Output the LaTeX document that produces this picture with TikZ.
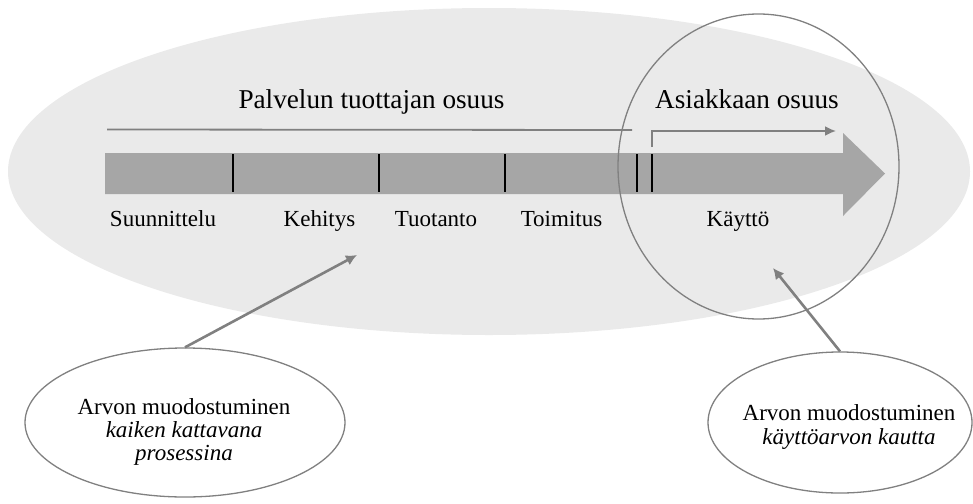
\documentclass[tikz,border=0pt]{standalone}
\usepackage{fontspec}
\setmainfont{Liberation Serif}
\usepackage{tikz}
\usetikzlibrary{arrows.meta,shapes.geometric}
\definecolor{bgfill}{RGB}{234,234,234}
\definecolor{barfill}{RGB}{166,166,166}
\definecolor{edge}{RGB}{128,128,128}

\begin{document}
\begin{tikzpicture}
  [x=0.5pt,y=-0.5pt,
   phase/.style={anchor=base,font=\fontsize{11.5}{13}\selectfont},
   share/.style={anchor=base,font=\fontsize{13.6}{16}\selectfont},
   bubble/.style={ellipse,draw=edge,line width=0.65pt,fill=white,inner sep=0pt},
   bubbletext/.style={align=center,font=\fontsize{11.5}{11.5}\selectfont},
   pointer/.style={draw=edge,line width=1.3pt,-{Latex[length=5.5pt,width=5.5pt]}}]
  \useasboundingbox (0,0) rectangle (973,503);
  \node[ellipse,fill=bgfill,inner sep=0pt,minimum width=481pt,minimum height=163.5pt] (stage) at (489,171.5) {};
  \fill[barfill] (105,153) -- (843,153) -- (843,133) -- (885,173.5) -- (843,216) -- (843,194) -- (105,194) -- cycle;
  \foreach \x in {233,379,505,637,652}
    \draw[line width=1pt] (\x,154) -- (\x,192);

  \node[phase] (plan) at (163,226) {Suunnittelu};
  \node[phase] (devel) at (319.5,226) {Kehitys};
  \node[phase] (prod) at (436,226) {Tuotanto};
  \node[phase] (deliv) at (561.5,226) {Toimitus};
  \node[phase] (use) at (738,226) {Käyttö};

  \node[share] (provider) at (371.5,108) {Palvelun tuottajan osuus};
  \node[share] (customer) at (747,108) {Asiakkaan osuus};
  \coordinate (provA) at (107,129.5);
  \coordinate (provB) at (632,130);
  \coordinate (custA) at (652,147);
  \coordinate (custB) at (836,131);
  \draw[edge,line width=0.9pt] (provA) -- (provB);
  \draw[edge,line width=0.9pt,-{Latex[length=5.5pt,width=5pt]}] (custA) |- (custB);

  \node[ellipse,draw=edge,line width=0.65pt,inner sep=0pt,minimum width=140.5pt,minimum height=152.5pt] (usage) at (758.5,166.5) {};

  \node[bubble,minimum width=160pt,minimum height=74.5pt] (ellL) at (185,422.5) {};
  \node[bubbletext] (txtL) at (184,432) {Arvon muodostuminen\\\textit{kaiken kattavana}\\\textit{prosessina}};
  \node[bubble,minimum width=132pt,minimum height=70.5pt] (ellR) at (840,422.5) {};
  \node[bubbletext,font=\fontsize{11.5}{12}\selectfont] (txtR) at (849,427) {Arvon muodostuminen\\\textit{käyttöarvon kautta}};

  \coordinate (tipL) at (357,255);
  \coordinate (tipR) at (773,268);
  \draw[pointer] (ellL.north) -- (tipL);
  \draw[pointer] (ellR.north) -- (tipR);
\end{tikzpicture}
\end{document}
